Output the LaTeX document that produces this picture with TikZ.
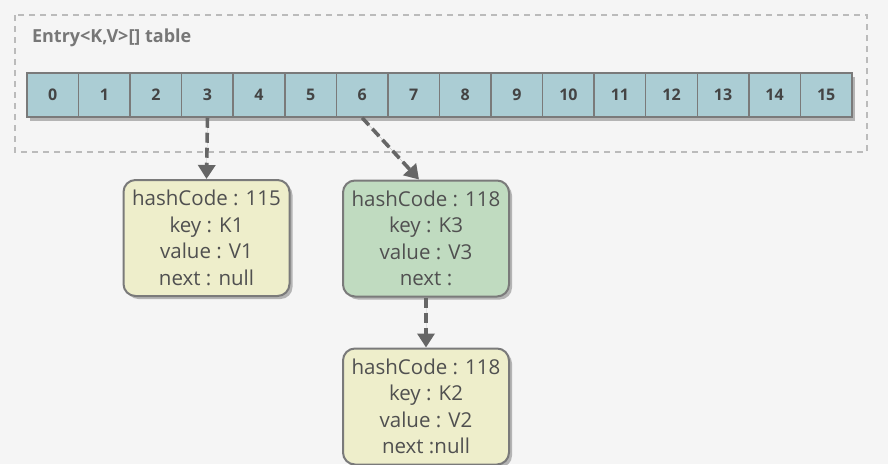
\documentclass[tikz,border=0pt]{standalone}
\usepackage{fontspec}
\setmainfont{Open Sans}
\usetikzlibrary{positioning,shadows,arrows.meta}
\definecolor{bgcol}{HTML}{F5F5F5}
\definecolor{framecol}{HTML}{BBBBBB}
\definecolor{linecol}{HTML}{7A7A7A}
\definecolor{cellcol}{HTML}{ABCDD4}
\definecolor{numcol}{HTML}{444444}
\definecolor{titlecol}{HTML}{777777}
\definecolor{yelcol}{HTML}{EEEECB}
\definecolor{grncol}{HTML}{C0DBC0}
\definecolor{txtcol}{HTML}{505050}
\definecolor{arrowcol}{HTML}{666666}
\definecolor{shadecol}{HTML}{B4B4B4}
\tikzset{
  cell/.style={draw=linecol, line width=1.5pt, fill=cellcol, minimum width=51.56pt,
    minimum height=44pt, inner sep=0pt, text=numcol,
    font=\bfseries\fontsize{16}{18}\selectfont,
    drop shadow={shadow xshift=3pt, shadow yshift=-4pt, fill=shadecol, opacity=1}},
  entry/.style={draw=linecol, line width=2pt, rounded corners=12pt, minimum width=166pt,
    minimum height=116pt, inner sep=0pt, align=center, text=txtcol,
    font=\fontsize{20.5}{26.5}\selectfont,
    drop shadow={shadow xshift=3pt, shadow yshift=-3pt, fill=shadecol, opacity=1}},
  link/.style={-{Triangle[length=14pt,width=17pt]}, line width=3.6pt, draw=arrowcol,
    fill=arrowcol, dash pattern=on 10pt off 5pt}
}
\begin{document}
\begin{tikzpicture}[x=1pt,y=-1pt]
  % background and table frame
  \fill[bgcol] (0,0) rectangle (888,464);
  \useasboundingbox (0,0) rectangle (888,464);
  \draw[framecol, line width=1.5pt, dash pattern=on 6pt off 5pt] (15,15) rectangle (867,152);
  \node[anchor=west, text=titlecol, font=\bfseries\fontsize{18}{20}\selectfont] (title) at (28.5,38) {Entry<K,V>[] table};

  % bucket array
  \foreach \i in {0,...,15}
    \node[cell] (c\i) at ({27+51.56*(\i+0.5)},95) {\i};

  % entries
  \node[entry, fill=yelcol] (e1) at (206.5,238) {hashCode : 115\\key : K1\\value : V1\\next : null};
  \node[entry, fill=grncol] (e2) at (426,238.5) {hashCode : 118\\key : K3\\value : V3\\next : };
  \node[entry, fill=yelcol, below=50pt of e2] (e3) {hashCode : 118\\key : K2\\value : V2\\next :null};

  % links
  \draw[link] (c3.south) -- (e1.north);
  \draw[link] (c6.south) -- ([xshift=-7pt]e2.north);
  \draw[link] (e2.south) -- (e3.north);
\end{tikzpicture}
\end{document}
